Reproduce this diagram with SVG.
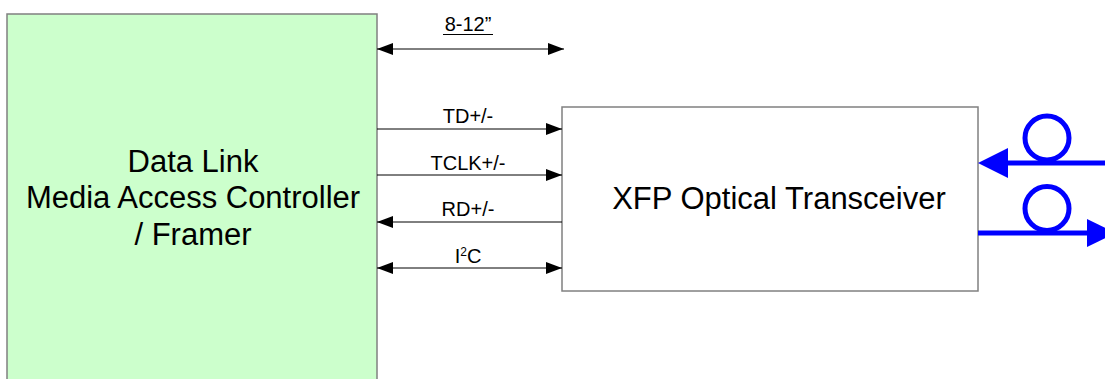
<svg xmlns="http://www.w3.org/2000/svg" width="1105" height="379" viewBox="0 0 1105 379">
  <style>
    .box { stroke: #808080; stroke-width: 1.5; }
    .sig { stroke: #000; stroke-width: 1; fill: none; }
    .lbl { font-family: "Liberation Sans", Arial, sans-serif; font-size: 20px; fill: #000; text-anchor: middle; }
    .big { font-family: "Liberation Sans", Arial, sans-serif; font-size: 31px; fill: #000; text-anchor: middle; }
    .fiber { stroke: #0000FF; stroke-width: 5; fill: none; }
  </style>
  <defs>
    <marker id="ah" viewBox="0 0 16 12" refX="16" refY="6" markerWidth="16" markerHeight="12" markerUnits="userSpaceOnUse" orient="auto-start-reverse">
      <path d="M0,0 L16,6 L0,12 Z" fill="#000"/>
    </marker>
  </defs>
  <rect width="1105" height="379" fill="#fff"/>

  <!-- MAC / framer block -->
  <g id="mac">
    <rect class="box" x="7" y="14" width="370" height="380" fill="#CCFFCC"/>
    <text class="big" x="193" y="172">Data Link</text>
    <text class="big" x="193" y="208">Media Access Controller</text>
    <text class="big" x="193" y="245">/ Framer</text>
  </g>

  <!-- XFP module -->
  <g id="xfp">
    <rect class="box" x="562" y="107" width="416" height="184" fill="#fff"/>
    <text class="big" x="779" y="209">XFP Optical Transceiver</text>
  </g>

  <!-- optical fiber coils -->
  <g id="fiber-rx">
    <circle class="fiber" cx="1047" cy="138" r="22"/>
    <line class="fiber" x1="1105" y1="163" x2="1005" y2="163"/>
    <path d="M978,163 L1008,148 L1008,178 Z" fill="#0000FF"/>
  </g>
  <g id="fiber-tx">
    <circle class="fiber" cx="1047" cy="208.5" r="22"/>
    <line class="fiber" x1="978" y1="233" x2="1090" y2="233"/>
    <path d="M1087,219 L1116,233 L1087,247 Z" fill="#0000FF"/>
  </g>

  <!-- signal connectors -->
  <g id="connectors">
    <line class="sig" x1="377" y1="49" x2="564" y2="49" marker-start="url(#ah)" marker-end="url(#ah)"/>
    <line class="sig" x1="377" y1="129" x2="562" y2="129" marker-end="url(#ah)"/>
    <line class="sig" x1="377" y1="175" x2="562" y2="175" marker-end="url(#ah)"/>
    <line class="sig" x1="377" y1="222" x2="562" y2="222" marker-start="url(#ah)"/>
    <line class="sig" x1="377" y1="268" x2="562" y2="268" marker-start="url(#ah)" marker-end="url(#ah)"/>
  </g>

  <g id="labels">
    <text class="lbl" x="468" y="31">8-12”</text>
    <line x1="443" y1="34.5" x2="493" y2="34.5" stroke="#000" stroke-width="1.2"/>
    <text class="lbl" x="468" y="123">TD+/-</text>
    <text class="lbl" x="468" y="170">TCLK+/-</text>
    <text class="lbl" x="468" y="216">RD+/-</text>
    <text class="lbl" x="468" y="263">I<tspan font-size="12" dy="-7">2</tspan><tspan dy="7">C</tspan></text>
  </g>
</svg>
